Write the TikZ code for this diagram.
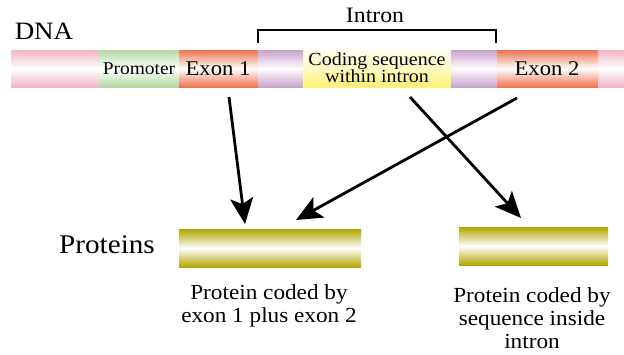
\documentclass[tikz,border=0pt]{standalone}
\usepackage{fontspec}
\setmainfont[FakeStretch=1.08]{Liberation Serif}
\usetikzlibrary{arrows.meta}
\definecolor{cpink}{HTML}{F2B6C6}
\definecolor{cgreen}{HTML}{B2D9A4}
\definecolor{corange}{HTML}{EE7450}
\definecolor{cpurple}{HTML}{C9A2CB}
\definecolor{cyellow}{HTML}{FFF176}
\definecolor{colive}{HTML}{B0A600}
\tikzset{
  seg/.style={inner sep=0pt, outer sep=0pt, minimum height=37pt, anchor=north west},
  segpink/.style={seg, top color=cpink, bottom color=cpink, middle color=white},
  seggreen/.style={seg, top color=cgreen, bottom color=cgreen, middle color=white},
  segorange/.style={seg, top color=corange, bottom color=corange, middle color=white},
  segpurple/.style={seg, top color=cpurple, bottom color=cpurple, middle color=white},
  segyellow/.style={seg, top color=cyellow!15, bottom color=cyellow, middle color=cyellow!45},
  prot/.style={inner sep=0pt, outer sep=0pt, minimum height=38pt, anchor=north west, top color=colive, bottom color=colive, middle color=white},
  lbl/.style={inner sep=0pt, font=\fontsize{21}{21}\selectfont},
  arr/.style={line width=2.8pt, -{Stealth[length=26pt,width=23pt,inset=6pt]}},
  caption/.style={inner sep=0pt, align=center, font=\fontsize{21.5}{23}\selectfont},
}
\begin{document}
\begin{tikzpicture}[x=1pt,y=-1pt]
\useasboundingbox (0,0) rectangle (624,354);
% DNA bar
\node[segpink, minimum width=88pt] (p1) at (11,50) {};
\node[seggreen, minimum width=80pt] (prom) at (99,50) {};
\node[segorange, minimum width=79pt] (ex1) at (179,50) {};
\node[segpurple, minimum width=45pt] (pu1) at (258,50) {};
\node[segyellow, minimum width=148pt] (cod) at (303,50) {};
\node[segpurple, minimum width=46pt] (pu2) at (451,50) {};
\node[segorange, minimum width=101pt] (ex2) at (497,50) {};
\node[segpink, minimum width=26pt] (p2) at (598,50) {};
% labels in bar
\node[lbl, font=\fontsize{18}{18}\selectfont] (tprom) at (139,69) {Promoter};
\node[lbl] (tex1) at (218,69) {Exon 1};
\node[lbl] (tex2) at (547,69) {Exon 2};
\node[inner sep=0pt, align=center, font=\fontsize{18.5}{17}\selectfont] (tcod) at (377,68) {Coding sequence\\within intron};
\node[inner sep=0pt, font=\fontsize{25}{25}\selectfont] (dna) at (44,31) {DNA};
% intron bracket
\coordinate (b1) at (258,43);
\coordinate (b2) at (496,43);
\draw[line width=2.6pt] (b1) -- ++(0,-13) -| (b2);
\node[inner sep=0pt, font=\fontsize{22}{22}\selectfont] (intron) at (375,15) {Intron};
% proteins
\node[prot, minimum width=182pt] (pr1) at (179,229) {};
\node[prot, minimum width=149pt] (pr2) at (459,227) {};
\node[inner sep=0pt, font=\fontsize{27}{27}\selectfont] (proteins) at (107,245) {Proteins};
\node[caption] (c1) at (269,306) {Protein coded by\\exon 1 plus exon 2};
\node[caption] (c2) at (532,318) {Protein coded by\\sequence inside\\intron};
% arrows
\coordinate (a1s) at (229,97);
\coordinate (a1e) at (245,224);
\coordinate (a2s) at (517,98);
\coordinate (a2e) at (296,220);
\coordinate (a3s) at (410,97);
\coordinate (a3e) at (521,218);
\draw[arr] (a1s) -- (a1e);
\draw[arr] (a2s) -- (a2e);
\draw[arr] (a3s) -- (a3e);
\end{tikzpicture}
\end{document}
